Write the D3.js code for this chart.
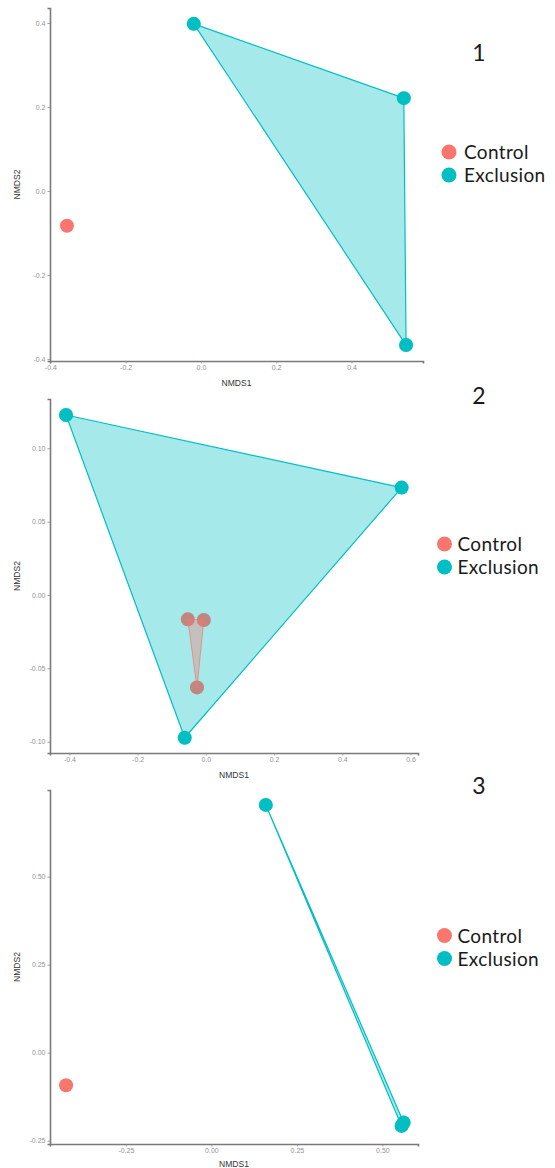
<!DOCTYPE html>
<html>
<head>
<meta charset="utf-8">
<script src="https://cdn.jsdelivr.net/npm/d3@7"></script>
<style>
  html, body { margin: 0; padding: 0; background: #fff; }
  svg { display: block; }
  .tick text { font-family: "Liberation Sans", Arial, sans-serif; font-size: 7px; fill: #939393; }
  .axis-title { font-family: "Liberation Sans", Arial, sans-serif; font-size: 8.5px; fill: #333; }
  .legend-text { font-family: Lato, "Open Sans", sans-serif; font-size: 19px; letter-spacing: 0.35px; fill: #1a1a1a; }
  .panel-num { font-family: Lato, "Open Sans", sans-serif; font-size: 23px; fill: #1a1a1a; }
</style>
</head>
<body>
<script>
// Groups and their colours
const groups = ["Control", "Exclusion"];
const groupColors = ["#F8766D", "#00BFC4"];

// NMDS site scores, [NMDS1, NMDS2], per ordination
const ord1Control = [[-0.356, -0.083]];
const ord1Exclusion = [[-0.019, 0.398], [0.539, 0.221], [0.545, -0.367]];

const ord2Control = [[-0.053, -0.0166], [-0.006, -0.017], [-0.026, -0.063]];
const ord2Exclusion = [[-0.41, 0.1227], [0.574, 0.0732], [-0.062, -0.0973]];

const ord3Control = [[-0.425, -0.0926]];
const ord3Exclusion = [[0.159, 0.7037], [0.556, -0.208], [0.562, -0.1986]];

// Tick values per ordination
const ord1XTicks = [-0.4, -0.2, 0.0, 0.2, 0.4];
const ord1YTicks = [-0.4, -0.2, 0.0, 0.2, 0.4];
const ord2XTicks = [-0.4, -0.2, 0.0, 0.2, 0.4, 0.6];
const ord2YTicks = [-0.10, -0.05, 0.00, 0.05, 0.10];
const ord3XTicks = [-0.25, 0.00, 0.25, 0.50];
const ord3YTicks = [-0.25, 0.00, 0.25, 0.50];

const panelLabels = ["1", "2", "3"];

const W = 555, H = 1168;
const svg = d3.select("body").append("svg").attr("width", W).attr("height", H);

const fmt = f => v => d3.format(f)(v).replace("\u2212", "-");

const panels = [
  { label: panelLabels[0], control: ord1Control, exclusion: ord1Exclusion,
    xTicks: ord1XTicks, yTicks: ord1YTicks, xFmt: fmt(".1f"), yFmt: fmt(".1f"),
    xDomain: [-0.401, 0.590], yDomain: [-0.405, 0.4357],
    left: 50, right: 423, top: 8, bottom: 361,
    xTitleY: 384, legendX: 449, legendY: 152, legendTextX: 464, numY: 52 },
  { label: panelLabels[1], control: ord2Control, exclusion: ord2Exclusion,
    xTicks: ord2XTicks, yTicks: ord2YTicks, xFmt: fmt(".1f"), yFmt: fmt(".2f"),
    xDomain: [-0.457, 0.622], yDomain: [-0.1077, 0.1336],
    left: 50, right: 418, top: 399, bottom: 753,
    xTitleY: 776, legendX: 444.5, legendY: 544, legendTextX: 457.5, numY: 395 },
  { label: panelLabels[2], control: ord3Control, exclusion: ord3Exclusion,
    xTicks: ord3XTicks, yTicks: ord3YTicks, xFmt: fmt(".2f"), yFmt: fmt(".2f"),
    xDomain: [-0.472, 0.604], yDomain: [-0.2594, 0.746],
    left: 50, right: 418, top: 790, bottom: 1144,
    xTitleY: 1165, legendX: 444.5, legendY: 935.5, legendTextX: 457.5, numY: 785 }
];

panels.forEach(p => {
  const x = d3.scaleLinear().domain(p.xDomain).range([p.left, p.right]);
  const y = d3.scaleLinear().domain(p.yDomain).range([p.bottom, p.top]);
  const g = svg.append("g");

  // Axes
  const xAxis = g.append("g").attr("transform", `translate(0,${p.bottom})`)
    .call(d3.axisBottom(x).tickValues(p.xTicks).tickFormat(p.xFmt).tickSize(2.5).tickPadding(2));
  const yAxis = g.append("g").attr("transform", `translate(${p.left},0)`)
    .call(d3.axisLeft(y).tickValues(p.yTicks).tickFormat(p.yFmt).tickSize(2.5).tickPadding(2));
  [xAxis, yAxis].forEach(a => {
    a.select(".domain").attr("stroke", "#7a7a7a").attr("stroke-width", 1.6);
    a.selectAll(".tick line").attr("stroke", "#8a8a8a").attr("stroke-width", 0.8);
  });

  // Axis titles
  g.append("text").attr("class", "axis-title")
    .attr("x", (p.left + p.right) / 2).attr("y", p.xTitleY)
    .attr("text-anchor", "middle").attr("dominant-baseline", "middle").text("NMDS1");
  g.append("text").attr("class", "axis-title")
    .attr("transform", `translate(18,${(p.top + p.bottom) / 2}) rotate(-90)`)
    .attr("text-anchor", "middle").attr("dominant-baseline", "middle").text("NMDS2");

  // Points (drawn beneath the hulls)
  const sets = [p.control, p.exclusion];
  sets.forEach((pts, i) => {
    g.append("g").selectAll("circle").data(pts).join("circle")
      .attr("cx", d => x(d[0])).attr("cy", d => y(d[1])).attr("r", 7)
      .attr("fill", groupColors[i]);
  });

  // Convex hulls: Exclusion first, Control on top; each hull also tints its own points
  [1, 0].forEach(i => {
    const pts = sets[i];
    if (pts.length < 3) return;
    const hull = d3.polygonHull(pts.map(d => [x(d[0]), y(d[1])]));
    g.append("path")
      .attr("d", "M" + hull.join("L") + "Z")
      .attr("fill", groupColors[i]).attr("fill-opacity", 0.35)
      .attr("stroke", groupColors[i]).attr("stroke-width", i === 0 ? 0.9 : 1.2)
      .attr("stroke-opacity", i === 0 ? 0.8 : 1)
      .attr("stroke-linejoin", "round");
    g.append("g").selectAll("circle").data(pts).join("circle")
      .attr("cx", d => x(d[0])).attr("cy", d => y(d[1])).attr("r", 7)
      .attr("fill", groupColors[i]).attr("fill-opacity", 0.35);
  });

  // Legend
  groups.forEach((name, i) => {
    const ly = p.legendY + i * 23;
    g.append("circle").attr("cx", p.legendX).attr("cy", ly).attr("r", 7.5).attr("fill", groupColors[i]);
    g.append("text").attr("class", "legend-text")
      .attr("x", p.legendTextX).attr("y", ly + 7).text(name);
  });

  // Panel number
  g.append("text").attr("class", "panel-num")
    .attr("x", 479).attr("y", p.numY).attr("text-anchor", "middle")
    .attr("dominant-baseline", "central").text(p.label);
});
</script>
</body>
</html>
